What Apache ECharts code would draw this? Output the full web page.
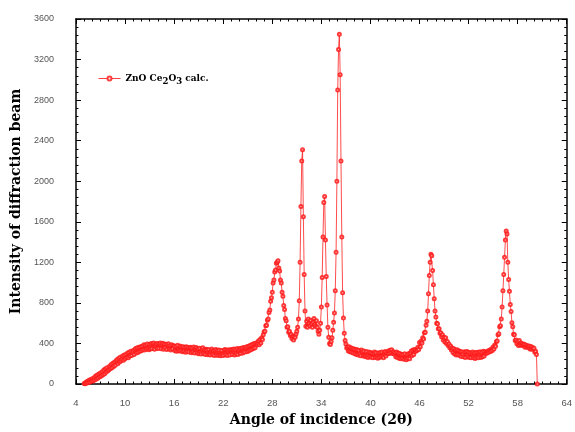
<!DOCTYPE html>
<html>
<head>
<meta charset="utf-8">
<script src="https://cdn.jsdelivr.net/npm/echarts@6/dist/echarts.min.js"></script>
<style>html,body{margin:0;padding:0;background:#fff}#c{width:575px;height:432px}</style>
</head>
<body>
<div id="c"></div>
<script>
// Angle grid (2θ, degrees): first sample and sampling step of the scan
const angleStart = 5.0;
const angleStep = 0.1;
// Intensities, one row per degree (x.0 ... x.9)
const intensity = [
  6, 2, 18, 8, 28, 14, 36, 20, 44, 28,                // 5
  52, 30, 62, 42, 78, 50, 88, 60, 98, 72,             // 6
  108, 80, 120, 92, 138, 102, 150, 118, 160, 130,     // 7
  140, 175, 150, 192, 160, 205, 172, 215, 185, 228,   // 8
  240, 200, 252, 218, 265, 228, 245, 275, 235, 285,   // 9
  250, 292, 262, 305, 258, 312, 275, 322, 282, 310,   // 10
  330, 292, 340, 350, 305, 358, 312, 362, 322, 368,   // 11
  328, 372, 340, 388, 335, 382, 345, 395, 350, 338,   // 12
  392, 345, 400, 350, 395, 405, 342, 388, 398, 350,   // 13
  400, 352, 392, 405, 348, 390, 402, 342, 395, 358,   // 14
  392, 340, 385, 398, 345, 380, 335, 388, 348, 378,   // 15
  375, 328, 370, 322, 382, 335, 325, 375, 330, 368,   // 16
  318, 368, 325, 362, 312, 368, 322, 360, 315, 358,   // 17
  362, 308, 355, 315, 365, 305, 350, 360, 305, 348,   // 18
  298, 352, 310, 295, 345, 358, 300, 338, 292, 342,   // 19
  336, 288, 340, 295, 285, 332, 345, 290, 330, 282,   // 20
  328, 340, 285, 332, 280, 336, 292, 278, 330, 290,   // 21
  282, 330, 340, 288, 335, 280, 325, 338, 285, 332,   // 22
  340, 290, 335, 345, 285, 338, 298, 350, 292, 336,   // 23
  350, 300, 345, 356, 305, 360, 315, 352, 365, 318,   // 24
  370, 325, 378, 335, 385, 342, 392, 350, 400, 358,   // 25
  405, 385, 400, 425, 388, 440, 405, 455, 438, 485,   // 26
  515, 520, 575, 580, 630, 640, 705, 730, 815, 850,   // 27
  905, 995, 1025, 1105, 1125, 1190, 1200, 1215, 1145, 1115, // 28
  1025, 995, 905, 865, 775, 735, 645, 625, 560, 565,  // 29
  510, 520, 478, 490, 450, 468, 435, 470, 460, 492,   // 30
  520, 560, 640, 820, 1200, 1750, 2200, 2310, 1650, 1080, // 31
  720, 570, 620, 560, 640, 600, 575, 630, 595, 560,   // 32
  610, 645, 590, 570, 625, 560, 520, 490, 530, 600,   // 33
  760, 1050, 1450, 1790, 1850, 1420, 1060, 780, 560, 460, // 34
  400, 390, 420, 455, 530, 610, 700, 920, 1300, 2000, // 35
  2900, 3300, 3450, 3050, 2200, 1450, 900, 650, 500, 430, // 36
  395, 355, 365, 325, 368, 318, 358, 312, 350, 305,   // 37
  345, 298, 340, 292, 338, 285, 330, 295, 278, 335,   // 38
  318, 275, 325, 282, 268, 320, 278, 262, 315, 272,   // 39
  310, 265, 305, 258, 302, 315, 262, 308, 270, 255,   // 40
  305, 262, 310, 268, 315, 272, 258, 310, 320, 275,   // 41
  312, 298, 325, 302, 332, 310, 338, 300, 318, 295,   // 42
  310, 268, 315, 262, 305, 255, 300, 248, 292, 255,   // 43
  290, 245, 298, 252, 240, 292, 255, 300, 250, 305,   // 44
  325, 280, 335, 290, 340, 320, 338, 330, 362, 340,   // 45
  410, 368, 425, 405, 455, 445, 505, 510, 580, 620,   // 46
  720, 890, 1070, 1200, 1280, 1265, 1120, 980, 840, 720, // 47
  660, 600, 595, 545, 545, 500, 505, 465, 485, 435,   // 48
  460, 415, 455, 400, 418, 380, 395, 358, 375, 335,   // 49
  355, 310, 348, 295, 335, 285, 338, 290, 328, 280,   // 50
  320, 272, 315, 295, 270, 318, 262, 312, 320, 268,   // 51
  312, 262, 308, 258, 302, 315, 260, 305, 252, 310,   // 52
  265, 312, 258, 305, 318, 262, 310, 270, 322, 275,   // 53
  318, 300, 315, 305, 328, 315, 335, 320, 345, 330,   // 54
  365, 345, 385, 372, 420, 425, 485, 495, 565, 575,   // 55
  640, 760, 920, 1080, 1250, 1420, 1510, 1480, 1200, 1030, // 56
  915, 785, 715, 605, 565, 490, 485, 430, 435, 398,   // 57
  420, 380, 428, 382, 405, 385, 398, 378, 392, 362,   // 58
  385, 365, 378, 360, 375, 345, 370, 342, 362, 345,   // 59
  352, 312, 322, 292, 0                               // 60
];
const seriesName = 'ZnO Ce2O3 calc.';
const xTicks = [4, 10, 16, 22, 28, 34, 40, 46, 52, 58, 64];
const yTicks = [0, 400, 800, 1200, 1600, 2000, 2400, 2800, 3200, 3600];

const pts = intensity.map((v, i) => [+(angleStart + i * angleStep).toFixed(2), v]);

const chart = echarts.init(document.getElementById('c'), null, {renderer: 'canvas'});
const serif = '"DejaVu Serif", "Liberation Serif", serif';
const sans = '"Liberation Sans", "DejaVu Sans", sans-serif';
const axisCommon = {
  type: 'value',
  axisLine: {show: true, onZero: false, lineStyle: {color: '#000', width: 1.5}},
  axisTick: {show: true, inside: true, length: 5, lineStyle: {color: '#000', width: 1}},
  minorTick: {show: true, length: 2.5, lineStyle: {color: '#000', width: 1}},
  splitLine: {show: false}
};
chart.setOption({
  animation: false,
  backgroundColor: '#fff',
  grid: {left: 76, right: 6, top: 19, bottom: 43},
  legend: {
    show: true,
    left: 93, top: 69,
    itemWidth: 22, itemHeight: 5, itemGap: 4,
    data: [seriesName],
    lineStyle: {width: 1, color: '#ff4040'},
    itemStyle: {color: '#ff2020', borderWidth: 0.8},
    formatter: () => '{a|ZnO Ce}{s|2}{a|O}{s|3}{a| calc.}',
    textStyle: {
      rich: {
        a: {fontFamily: serif, fontWeight: 'bold', fontSize: 9, color: '#000'},
        s: {fontFamily: serif, fontWeight: 'bold', fontSize: 8.5, color: '#000', padding: [6, 0, 0, 0]}
      }
    }
  },
  xAxis: [
    Object.assign({}, axisCommon, {
      min: xTicks[0], max: xTicks[xTicks.length - 1], interval: 6,
      position: 'bottom',
      minorTick: Object.assign({}, axisCommon.minorTick, {splitNumber: 6}),
      axisLabel: {color: '#555', fontFamily: sans, fontSize: 9.5, margin: 14},
      name: 'Angle of incidence (2θ)', nameLocation: 'middle', nameGap: 29,
      nameTextStyle: {fontFamily: serif, fontWeight: 'bold', fontSize: 14, color: '#000'}
    }),
    Object.assign({}, axisCommon, {
      min: xTicks[0], max: xTicks[xTicks.length - 1], interval: 6,
      position: 'top',
      minorTick: Object.assign({}, axisCommon.minorTick, {splitNumber: 6}),
      axisLabel: {show: false}
    })
  ],
  yAxis: [
    Object.assign({}, axisCommon, {
      min: yTicks[0], max: yTicks[yTicks.length - 1], interval: 400,
      position: 'left',
      minorTick: Object.assign({}, axisCommon.minorTick, {splitNumber: 5}),
      axisLabel: {color: '#555', fontFamily: sans, fontSize: 9, margin: 22, formatter: v => String(v)},
      name: 'Intensity of diffraction beam', nameLocation: 'middle', nameGap: 29,
      nameTextStyle: {fontFamily: serif, fontWeight: 'bold', fontSize: 14, color: '#000'}
    }),
    Object.assign({}, axisCommon, {
      min: yTicks[0], max: yTicks[yTicks.length - 1], interval: 400,
      position: 'right',
      minorTick: Object.assign({}, axisCommon.minorTick, {splitNumber: 5}),
      axisLabel: {show: false}
    })
  ],
  series: [{
    name: seriesName,
    type: 'line',
    xAxisIndex: 0, yAxisIndex: 0,
    data: pts,
    symbol: 'emptyCircle',
    symbolSize: 3,
    showSymbol: true,
    sampling: null,
    lineStyle: {color: '#ff2020', width: 0.8},
    itemStyle: {color: '#ff1a1a', borderWidth: 0.8, opacity: 0.85},
    emphasis: {disabled: true}
  }]
});
</script>
</body>
</html>
